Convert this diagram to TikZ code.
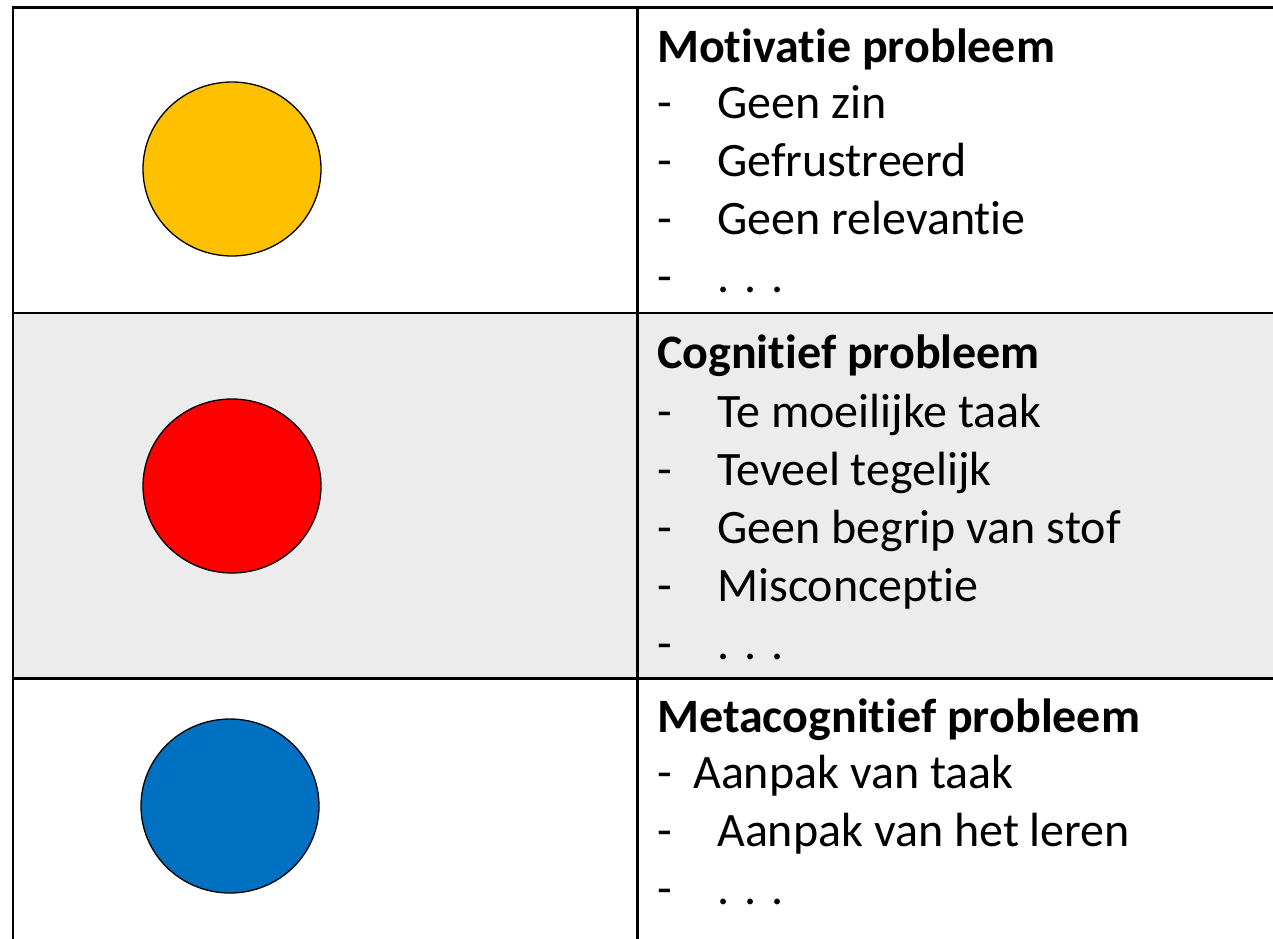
\documentclass[tikz,border=0pt]{standalone}
\usepackage{fontspec}
\setmainfont{Carlito}[Ligatures={NoCommon}]
\usetikzlibrary{shapes.geometric}
\definecolor{cyellow}{HTML}{FFC000}
\definecolor{cred}{HTML}{FF0000}
\definecolor{cblue}{HTML}{0070C0}
\definecolor{cgray}{HTML}{ECECEC}
\newcommand{\mydots}{.\hspace{15pt}.\hspace{15pt}.}
\begin{document}
\begin{tikzpicture}[x=1pt,y=-1pt,
  grid/.style={line width=2.6pt,black},
  dot/.style={ellipse, draw=black, line width=1.3pt, minimum width=178pt, minimum height=174pt, inner sep=0pt},
  title/.style={anchor=base west, inner sep=0pt, font=\fontsize{48}{56}\selectfont\bfseries},
  item/.style={anchor=base west, inner sep=0pt, font=\fontsize{48}{56}\selectfont},
]
\useasboundingbox (0,0) rectangle (1273,938);
\fill[white] (0,0) rectangle (1273,938);
\fill[cgray] (13,313) rectangle (1290,678);
% grid lines
\draw[grid] (13,960) -- (13,7.5) -- (1290,7.5);
\draw[grid] (637.5,7.5) -- (637.5,960);
\draw[grid] (13,313) -- (1290,313);
\draw[grid] (13,678.5) -- (1290,678.5);
% circles
\node[dot, fill=cyellow] (c1) at (232,169) {};
\node[dot, fill=cred] (c2) at (232,486) {};
\node[dot, fill=cblue] (c3) at (230,806) {};
% row 1
\node[title] (t1) at (657,62) {Motivatie probleem};
\node[item] (d11) at (657,118) {-};
\node[item] (i11) at (717,118) {Geen zin};
\node[item] (d12) at (657,176) {-};
\node[item] (i12) at (717,176) {Gefrustreerd};
\node[item] (d13) at (657,234) {-};
\node[item] (i13) at (717,234) {Geen relevantie};
\node[item] (d14) at (657,292) {-};
\node[item] (i14) at (717,292) {\mydots};
% row 2
\node[title] (t2) at (657,368) {Cognitief probleem};
\node[item] (d21) at (657,427) {-};
\node[item] (i21) at (717,427) {Te moeilijke taak};
\node[item] (d22) at (657,485) {-};
\node[item] (i22) at (717,485) {Teveel tegelijk};
\node[item] (d23) at (657,543) {-};
\node[item] (i23) at (717,543) {Geen begrip van stof};
\node[item] (d24) at (657,601) {-};
\node[item] (i24) at (717,601) {Misconceptie};
\node[item] (d25) at (657,659) {-};
\node[item] (i25) at (717,659) {\mydots};
% row 3
\node[title] (t3) at (657,732) {Metacognitief probleem};
\node[item] (d31) at (657,788) {-};
\node[item] (i31) at (693,788) {Aanpak van taak};
\node[item] (d32) at (657,846) {-};
\node[item] (i32) at (717,846) {Aanpak van het leren};
\node[item] (d33) at (657,904) {-};
\node[item] (i33) at (717,904) {\mydots};
\end{tikzpicture}
\end{document}
